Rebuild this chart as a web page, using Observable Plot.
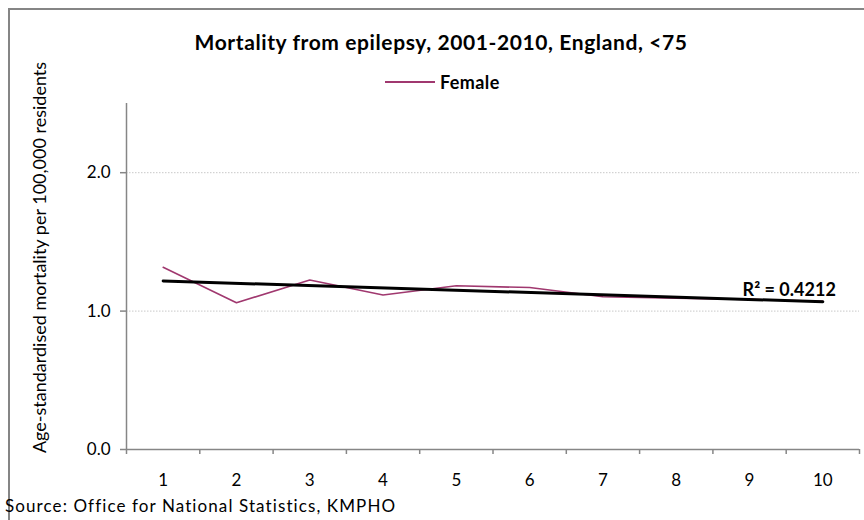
<!DOCTYPE html>
<html>
<head>
<meta charset="utf-8">
<script src="https://cdn.jsdelivr.net/npm/d3@7"></script>
<script src="https://cdn.jsdelivr.net/npm/@observablehq/plot@0.6"></script>
<style>
  html, body { margin: 0; padding: 0; background: #fff; width: 864px; height: 520px; overflow: hidden; }
  #wrap { position: relative; width: 864px; height: 520px; font-family: Lato, "Open Sans", sans-serif; }
  #frame { position: absolute; left: 8px; top: 8px; width: 900px; height: 600px; border: 2px solid #858585; box-sizing: border-box; }
  #title { position: absolute; left: 0; width: 882px; top: 29px; text-align: center; font-weight: bold; font-size: 21px; letter-spacing: 0.6px; color: #000; }
  #legend { position: absolute; left: 385px; top: 71px; display: flex; align-items: center; font-weight: bold; font-size: 18px; letter-spacing: 0.4px; }
  #legend .sw { width: 50px; height: 2px; margin-right: 5px; }
  #chart { position: absolute; left: 0; top: 93px; }
  #source { position: absolute; left: 5px; top: 495px; font-size: 17px; letter-spacing: 1.1px; color: #000; }
</style>
</head>
<body>
<div id="wrap">
  <div id="frame"></div>
  <div id="title"></div>
  <div id="legend"><div class="sw"></div><span></span></div>
  <div id="chart"></div>
  <div id="source"></div>
</div>
<script>
const titleText = "Mortality from epilepsy, 2001-2010, England, <75";
const seriesName = "Female";
const seriesColor = "#a0386f";
const years = [1, 2, 3, 4, 5, 6, 7, 8, 9, 10];
const female = [1.317, 1.06, 1.225, 1.116, 1.183, 1.17, 1.104, 1.094, 1.085, 1.07];
const yTicks = [0, 1, 2];
const yLabel = "Age-standardised mortality per 100,000 residents";
const r2Text = "R² = 0.4212";
const sourceText = "Source: Office for National Statistics, KMPHO";

document.getElementById("title").textContent = titleText;
document.querySelector("#legend span").textContent = seriesName;
document.querySelector("#legend .sw").style.background = seriesColor;
document.getElementById("source").textContent = sourceText;

const data = years.map((x, i) => ({x, y: female[i]}));

// least squares fit, for the R² label anchor
const n = years.length;
const mx = d3.mean(years), my = d3.mean(female);
const sxy = d3.sum(years, (x, i) => (x - mx) * (female[i] - my));
const sxx = d3.sum(years, x => (x - mx) ** 2);
const slope = sxy / sxx, icpt = my - slope * mx;
const lastX = years[n - 1];
const labelData = [{x: lastX, y: icpt + slope * lastX, t: r2Text}];

const bounds = d3.range(0.5, 11, 1);

const chart = Plot.plot({
  width: 864,
  height: 410,
  marginTop: 10,
  marginLeft: 126,
  marginRight: 5,
  marginBottom: 54,
  style: {fontFamily: "Lato, 'Open Sans', sans-serif", fontSize: "17px", color: "#000", background: "transparent", overflow: "visible"},
  x: {domain: [0.5, 10.5]},
  y: {domain: [0, 2.5]},
  marks: [
    Plot.ruleY(yTicks.filter(d => d > 0), {stroke: "#c8c8c8", strokeDasharray: "1.5,1.5", strokeWidth: 1}),
    Plot.ruleX([0.5], {stroke: "#868686", strokeWidth: 1.5}),
    Plot.ruleY([0], {stroke: "#868686", strokeWidth: 1.5}),
    Plot.axisY({ticks: yTicks, tickFormat: d3.format(".1f"), tickSize: 6, tickPadding: 10, stroke: "#868686", strokeWidth: 1.5, label: null, fontSize: 17}),
    Plot.axisX({ticks: bounds, tickFormat: () => "", tickSize: 5, stroke: "#868686", strokeWidth: 1.5, label: null}),
    Plot.axisX({ticks: years, tickFormat: d => String(d), tickSize: 0, tickPadding: 24, label: null, fontSize: 17}),
    Plot.text([yLabel], {frameAnchor: "left", rotate: -90, dx: -86, dy: -19, fontSize: 18, fill: "#000", lineAnchor: "middle", textAnchor: "middle"}),
    Plot.line(data, {x: "x", y: "y", stroke: seriesColor, strokeWidth: 1.6}),
    Plot.linearRegressionY(data, {x: "x", y: "y", stroke: "#000", strokeWidth: 3, ci: 0}),
    Plot.text(labelData, {x: "x", y: "y", text: "t", textAnchor: "end", dx: 13, dy: -12, fontWeight: "bold", fontSize: 18, fill: "#000"})
  ]
});
document.getElementById("chart").appendChild(chart);
</script>
</body>
</html>
